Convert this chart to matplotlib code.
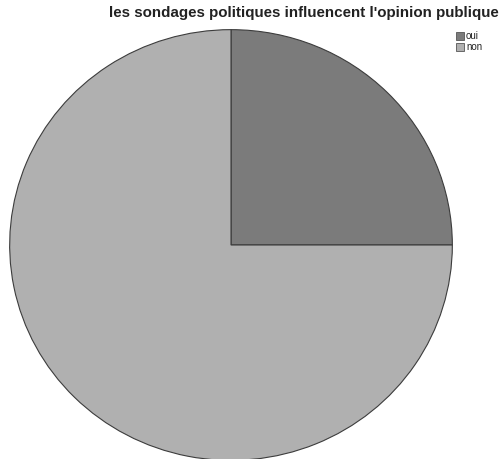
import matplotlib
matplotlib.use("Agg")
import matplotlib.pyplot as plt
from matplotlib.patches import Rectangle

labels = ["oui", "non"]
values = [25, 75]
colors = ["#7b7b7b", "#b0b0b0"]
title = "les sondages politiques influencent l'opinion publique"

W, H = 504, 459
fig = plt.figure(figsize=(W / 100, H / 100), dpi=100)
fig.patch.set_facecolor("white")

# pie area in pixel coordinates
cx, cy, rx, ry = 231, 245, 222, 216
ax = fig.add_axes([(cx - rx) / W, (H - cy - ry) / H, 2 * rx / W, 2 * ry / H])
ax.pie(values, colors=colors, startangle=90, counterclock=False,
       wedgeprops=dict(edgecolor="#3c3c3c", linewidth=0.8), radius=1)
ax.set_aspect("auto")
ax.set_xlim(-1.003, 1.003)
ax.set_ylim(-1.003, 1.003)
ax.axis("off")

fig.text(304 / W, 1 - 13 / H, title, ha="center", va="center",
         fontsize=10.9, fontweight="bold", family="Liberation Sans", color="#222222")

# legend
for i, (lab, col) in enumerate(zip(labels, colors)):
    y = 36 + i * 11
    fig.patches.append(Rectangle(((456) / W, 1 - (y + 4) / H), 8 / W, 8 / H,
                                 transform=fig.transFigure, facecolor=col,
                                 edgecolor="#555555", linewidth=0.6))
    fig.text(466 / W, 1 - y / H, lab, ha="left", va="center",
             fontsize=7, family="Liberation Sans", color="#222222")

fig.savefig("out.png", dpi=100)
